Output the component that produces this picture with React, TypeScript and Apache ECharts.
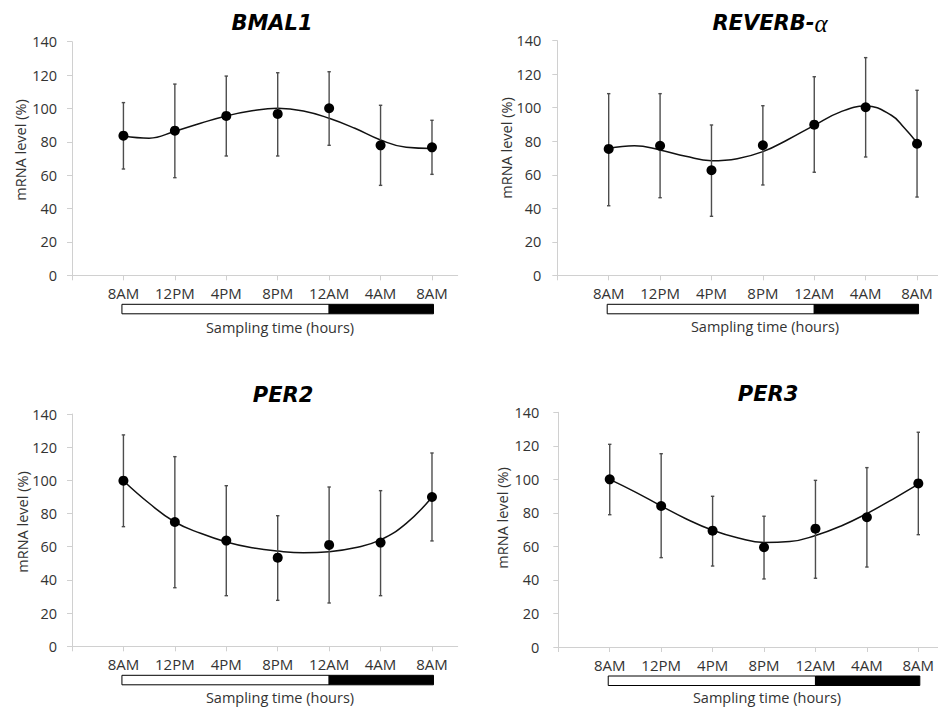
import React, { useEffect, useRef } from "react";
import * as echarts from "echarts";

// ---- data ----
const timeLabels = ["8AM", "12PM", "4PM", "8PM", "12AM", "4AM", "8AM"];
const samplePositions = [0, 1, 2, 3, 4, 5, 6];
const lightPhase = [0, 4];
const darkPhase = [4, 6];

const bmal1Mean = [83.7, 86.7, 95.5, 96.7, 100.1, 77.9, 76.7];
const bmal1Upper = [103.5, 114.6, 119.4, 121.4, 122.0, 101.9, 92.9];
const bmal1Lower = [63.7, 58.5, 71.5, 71.5, 77.9, 53.9, 60.5];
const bmal1FitX = [0, 0.5, 1, 1.5, 2, 2.5, 3, 3.5, 4, 4.5, 5, 5.5, 6];
const bmal1Fit = [83.5, 82.2, 86.3, 91.1, 95.5, 98.6, 100.1, 98.5, 94.1, 88.1, 81.1, 76.7, 76.0];

const reverbMean = [75.4, 77.3, 62.7, 77.6, 89.9, 100.3, 78.5];
const reverbUpper = [108.4, 108.4, 89.7, 101.2, 118.5, 129.9, 110.4];
const reverbLower = [41.5, 46.3, 35.2, 53.9, 61.5, 70.6, 46.7];
const reverbFitX = [0, 0.5, 1, 1.5, 2, 2.5, 3, 3.5, 4, 4.5, 5, 5.5, 5.75, 6];
const reverbFit = [75.8, 77.3, 74.8, 71.0, 68.4, 69.6, 73.8, 81.2, 89.5, 97.4, 101.0, 95.5, 88.0, 79.1];

const per2Mean = [99.8, 74.9, 63.7, 53.4, 61.1, 62.5, 90.0];
const per2Upper = [127.4, 114.3, 96.8, 78.7, 96.0, 93.8, 116.5];
const per2Lower = [72.1, 35.3, 30.5, 27.7, 26.1, 30.5, 63.5];
const per2FitX = [0, 0.5, 1, 1.5, 2, 2.5, 3, 3.5, 4, 4.5, 5, 5.5, 6];
const per2Fit = [99.8, 86.2, 74.9, 68.1, 62.9, 59.4, 57.4, 56.4, 57.0, 59.4, 64.1, 74.1, 89.8];

const per3Mean = [100.0, 84.1, 69.4, 59.5, 70.6, 77.4, 97.6];
const per3Upper = [120.9, 115.3, 89.9, 78.0, 99.4, 107.0, 128.1];
const per3Lower = [78.9, 53.3, 48.3, 40.6, 41.0, 47.7, 67.0];
const per3FitX = [0, 0.5, 1, 1.5, 2, 2.5, 3, 3.5, 4, 4.5, 5, 5.5, 6];
const per3Fit = [100.0, 92.4, 84.1, 76.2, 69.6, 65.0, 62.4, 62.9, 66.5, 72.2, 79.6, 88.1, 97.1];

const yAxisName = "mRNA level (%)";
const xAxisName = "Sampling time (hours)";

// ---- layout (positions & sizes) ----
const layouts = [
  { left: 72, top: 41.7, width: 385.7, height: 233.6, xMax: 6.5, yMargin: 15, titleX: 272, titleY: 23, yNameX: 20, yNameY: 150, xNameX: 280, xNameY: 327 },
  { left: 557.3, top: 40.7, width: 380.3, height: 234.6, xMax: 6.4, yMargin: 16, titleX: 770, titleY: 23, yNameX: 506, yNameY: 148, xNameX: 765, xNameY: 326 },
  { left: 72, top: 414, width: 385.7, height: 232.3, xMax: 6.5, yMargin: 15, titleX: 283, titleY: 395, yNameX: 22, yNameY: 522, xNameX: 280, xNameY: 697.5 },
  { left: 558.3, top: 412.3, width: 380.6, height: 234.7, xMax: 6.4, yMargin: 19, titleX: 768, titleY: 394, yNameX: 502, yNameY: 518, xNameX: 767, xNameY: 697 },
];

const genes = [
  { title: "BMAL1", mean: bmal1Mean, upper: bmal1Upper, lower: bmal1Lower, fitX: bmal1FitX, fit: bmal1Fit },
  { title: "REVERB-α", mean: reverbMean, upper: reverbUpper, lower: reverbLower, fitX: reverbFitX, fit: reverbFit },
  { title: "PER2", mean: per2Mean, upper: per2Upper, lower: per2Lower, fitX: per2FitX, fit: per2Fit },
  { title: "PER3", mean: per3Mean, upper: per3Upper, lower: per3Lower, fitX: per3FitX, fit: per3Fit },
];

const FONT = "'Open Sans', sans-serif";
const AXIS_COLOR = "#d0d0d0";
const LABEL_COLOR = "#333333";
const ERR_COLOR = "#4d4d4d";

function buildOption() {
  const grid: any[] = [];
  const xAxis: any[] = [];
  const yAxis: any[] = [];
  const series: any[] = [];
  const graphic: any[] = [];

  genes.forEach((g, i) => {
    const L = layouts[i];
    grid.push({
      left: L.left,
      top: L.top,
      width: L.width,
      height: L.height,
      containLabel: false,
      outerBoundsMode: "none",
    });
    xAxis.push({
      type: "value",
      gridIndex: i,
      min: -1,
      max: L.xMax,
      interval: 1,
      axisLine: { show: true, onZero: false, lineStyle: { color: AXIS_COLOR, width: 1 } },
      axisTick: {
        show: true,
        length: 5,
        lineStyle: { color: AXIS_COLOR, width: 1 },
        customValues: [-1, ...samplePositions],
      },
      axisLabel: {
        customValues: samplePositions,
        formatter: (v: number) => {
          const k = Math.round(v);
          return Math.abs(v - k) < 1e-6 && k >= 0 && k < timeLabels.length ? timeLabels[k] : "";
        },
        margin: 10,
        fontSize: 15,
        fontFamily: FONT,
        color: LABEL_COLOR,
      },
      splitLine: { show: false },
    });
    yAxis.push({
      type: "value",
      gridIndex: i,
      min: 0,
      max: 140,
      interval: 20,
      axisLine: { show: true, onZero: false, lineStyle: { color: AXIS_COLOR, width: 1 } },
      axisTick: { show: true, length: 5, lineStyle: { color: AXIS_COLOR, width: 1 } },
      axisLabel: { margin: L.yMargin, fontSize: 14.5, fontFamily: FONT, color: LABEL_COLOR },
      splitLine: { show: false },
    });

    // light/dark phase bar under the axis
    series.push({
      type: "custom",
      xAxisIndex: i,
      yAxisIndex: i,
      clip: false,
      silent: true,
      data: [
        [lightPhase[0], lightPhase[1], 0],
        [darkPhase[0], darkPhase[1], 1],
      ],
      encode: { x: [0, 1], y: 2 },
      renderItem: (params: any, api: any) => {
        const s = api.value(0);
        const e = api.value(1);
        const dark = api.value(2) === 1;
        const p0 = api.coord([s, 0]);
        const p1 = api.coord([e, 0]);
        const x0 = p0[0] - (dark ? 0 : 1.5);
        const x1 = p1[0] + (dark ? 1.5 : 0);
        return {
          type: "rect",
          shape: { x: x0, y: p0[1] + 29, width: x1 - x0, height: 9.5 },
          style: { fill: dark ? "#000000" : "#ffffff", stroke: "#000000", lineWidth: 1 },
        };
      },
      z: 1,
    });

    // fitted curve
    series.push({
      type: "line",
      xAxisIndex: i,
      yAxisIndex: i,
      data: g.fitX.map((x, k) => [x, g.fit[k]]),
      smooth: 0.45,
      smoothConstraint: false,
      showSymbol: false,
      symbol: "none",
      lineStyle: { color: "#111111", width: 1.5 },
      silent: true,
      z: 2,
    });

    // error bars
    series.push({
      type: "custom",
      xAxisIndex: i,
      yAxisIndex: i,
      silent: true,
      data: samplePositions.map((x, k) => [x, g.lower[k], g.upper[k]]),
      encode: { x: 0, y: [1, 2] },
      renderItem: (params: any, api: any) => {
        const x = api.value(0);
        const lo = api.coord([x, api.value(1)]);
        const hi = api.coord([x, api.value(2)]);
        const c = 1.7;
        const st = { stroke: ERR_COLOR, lineWidth: 1.4 };
        return {
          type: "group",
          children: [
            { type: "line", shape: { x1: lo[0], y1: lo[1], x2: hi[0], y2: hi[1] }, style: st },
            { type: "line", shape: { x1: lo[0] - c, y1: lo[1], x2: lo[0] + c, y2: lo[1] }, style: st },
            { type: "line", shape: { x1: hi[0] - c, y1: hi[1], x2: hi[0] + c, y2: hi[1] }, style: st },
          ],
        };
      },
      z: 3,
    });

    // mean points
    series.push({
      type: "scatter",
      xAxisIndex: i,
      yAxisIndex: i,
      data: samplePositions.map((x, k) => [x, g.mean[k]]),
      symbol: "circle",
      symbolSize: 10,
      itemStyle: { color: "#000000", opacity: 1 },
      silent: true,
      z: 4,
    });

    // title
    if (g.title.includes("α")) {
      const [main] = g.title.split("α");
      graphic.push({
        type: "text",
        x: L.titleX,
        y: L.titleY,
        style: {
          text: `{a|${main}}{b|α}`,
          align: "center",
          verticalAlign: "middle",
          rich: {
            a: { fontFamily: "'DejaVu Sans', sans-serif", fontWeight: "bold", fontStyle: "italic", fontSize: 21, fill: "#000" },
            b: { fontFamily: "'Liberation Serif', serif", fontStyle: "italic", fontSize: 25, fill: "#000" },
          },
        },
      });
    } else {
      graphic.push({
        type: "text",
        x: L.titleX,
        y: L.titleY,
        style: {
          text: g.title,
          align: "center",
          verticalAlign: "middle",
          fontFamily: "'DejaVu Sans', sans-serif",
          fontWeight: "bold",
          fontStyle: "italic",
          fontSize: 21,
          fill: "#000",
        },
      });
    }
    // y axis name (rotated)
    graphic.push({
      type: "text",
      x: L.yNameX,
      y: L.yNameY,
      rotation: Math.PI / 2,
      style: {
        text: yAxisName,
        align: "center",
        verticalAlign: "middle",
        fontFamily: FONT,
        fontSize: 14.5,
        fill: LABEL_COLOR,
      },
    });
    // x axis name
    graphic.push({
      type: "text",
      x: L.xNameX,
      y: L.xNameY,
      style: {
        text: xAxisName,
        align: "center",
        verticalAlign: "middle",
        fontFamily: FONT,
        fontSize: 14.5,
        fill: LABEL_COLOR,
      },
    });
  });

  return {
    animation: false,
    backgroundColor: "#ffffff",
    grid,
    xAxis,
    yAxis,
    series,
    graphic,
  };
}

export default function App() {
  const ref = useRef<HTMLDivElement>(null);
  useEffect(() => {
    document.body.style.margin = "0";
    if (!ref.current) return;
    const chart = echarts.init(ref.current, undefined, { renderer: "svg" });
    chart.setOption(buildOption() as any);
    return () => chart.dispose();
  }, []);
  return <div ref={ref} style={{ width: 938, height: 707, background: "#fff" }} />;
}
